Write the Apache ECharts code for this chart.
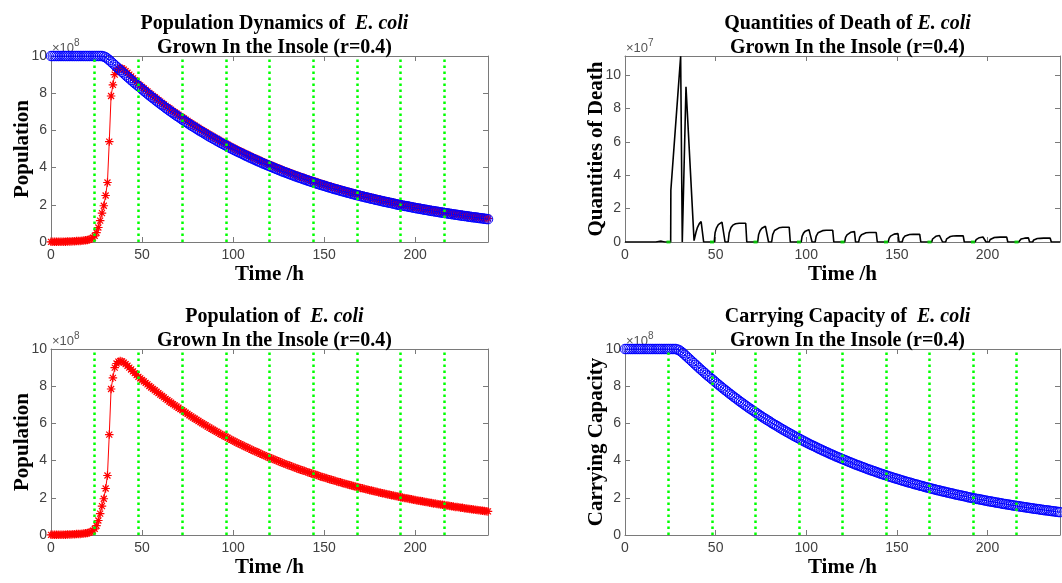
<!DOCTYPE html>
<html>
<head>
<meta charset="utf-8">
<script src="https://cdn.jsdelivr.net/npm/echarts@6/dist/echarts.min.js"></script>
<style>
html, body { margin: 0; padding: 0; background: #fff; }
#chart { width: 1062px; height: 583px; }
</style>
</head>
<body>
<div id="chart"></div>
<script>
// Hourly simulation output, t = 0 .. 240 h (values in units of 1e8 cells)
const START_H = 0;
const STEP_H = 1;

const population = [
  0.01, 0.01, 0.01, 0.01, 0.01, 0.02, 0.02, 0.02, 0.02, 0.03, 0.03, 0.03, 0.04, 0.04, 0.05, 0.05, 0.06, 0.07, 0.08,
  0.09, 0.11, 0.13, 0.17, 0.23, 0.33, 0.50, 0.78, 1.15, 1.55, 1.95, 2.50, 3.20, 5.40, 7.85, 8.45, 9.00, 9.22, 9.32,
  9.35, 9.33, 9.27, 9.19, 9.10, 9.00, 8.90, 8.80, 8.70, 8.60,
  8.50, 8.42, 8.34, 8.26, 8.18, 8.10, 8.01, 7.93, 7.86, 7.78, 7.70, 7.63,
  7.55, 7.48, 7.40, 7.32, 7.25, 7.18, 7.11, 7.04, 6.97, 6.90, 6.84, 6.77,
  6.71, 6.64, 6.57, 6.51, 6.44, 6.38, 6.31, 6.25, 6.19, 6.13, 6.07, 6.01,
  5.95, 5.89, 5.83, 5.77, 5.72, 5.66, 5.60, 5.55, 5.49, 5.44, 5.38, 5.33,
  5.28, 5.23, 5.17, 5.12, 5.07, 5.02, 4.97, 4.92, 4.88, 4.83, 4.78, 4.73,
  4.69, 4.64, 4.59, 4.55, 4.50, 4.46, 4.42, 4.37, 4.33, 4.29, 4.24, 4.20,
  4.16, 4.12, 4.08, 4.04, 4.00, 3.96, 3.92, 3.88, 3.84, 3.80, 3.77, 3.73,
  3.69, 3.66, 3.62, 3.58, 3.55, 3.51, 3.48, 3.45, 3.41, 3.38, 3.35, 3.31,
  3.28, 3.25, 3.22, 3.18, 3.15, 3.12, 3.09, 3.06, 3.03, 3.00, 2.97, 2.94,
  2.91, 2.88, 2.85, 2.83, 2.80, 2.77, 2.74, 2.72, 2.69, 2.66, 2.64, 2.61,
  2.58, 2.56, 2.53, 2.51, 2.48, 2.46, 2.43, 2.41, 2.39, 2.36, 2.34, 2.32,
  2.29, 2.27, 2.25, 2.23, 2.21, 2.18, 2.16, 2.14, 2.12, 2.10, 2.08, 2.06,
  2.03, 2.01, 1.99, 1.98, 1.96, 1.94, 1.92, 1.90, 1.88, 1.86, 1.84, 1.83,
  1.81, 1.79, 1.77, 1.76, 1.74, 1.72, 1.70, 1.69, 1.67, 1.65, 1.64, 1.62,
  1.61, 1.59, 1.58, 1.56, 1.54, 1.53, 1.51, 1.50, 1.49, 1.47, 1.46, 1.44,
  1.43, 1.41, 1.40, 1.38, 1.37, 1.36, 1.35, 1.33, 1.32, 1.31, 1.29, 1.28,
  1.27
];

const carryingCapacity = [
  10, 10, 10, 10, 10, 10, 10, 10, 10, 10, 10, 10, 10, 10, 10, 10, 10, 10, 10, 10,
  10, 10, 10, 10, 10, 10, 10, 10, 10,
  9.97, 9.93, 9.86, 9.78, 9.69, 9.60, 9.51, 9.42, 9.33, 9.24, 9.15, 9.06, 8.97, 8.88, 8.80, 8.71, 8.62, 8.54, 8.46,
  8.38, 8.30, 8.21, 8.13, 8.05, 7.97, 7.89, 7.81, 7.74, 7.66, 7.58, 7.51,
  7.43, 7.36, 7.29, 7.21, 7.14, 7.07, 7.00, 6.93, 6.86, 6.79, 6.73, 6.66,
  6.59, 6.53, 6.46, 6.40, 6.33, 6.27, 6.21, 6.15, 6.09, 6.02, 5.96, 5.91,
  5.85, 5.79, 5.73, 5.67, 5.62, 5.56, 5.51, 5.45, 5.40, 5.34, 5.29, 5.24,
  5.19, 5.13, 5.08, 5.03, 4.98, 4.93, 4.88, 4.83, 4.79, 4.74, 4.69, 4.64,
  4.60, 4.55, 4.51, 4.46, 4.42, 4.37, 4.33, 4.29, 4.24, 4.20, 4.16, 4.12,
  4.08, 4.04, 4.00, 3.96, 3.92, 3.88, 3.84, 3.80, 3.76, 3.73, 3.69, 3.65,
  3.62, 3.58, 3.54, 3.51, 3.47, 3.44, 3.41, 3.37, 3.34, 3.30, 3.27, 3.24,
  3.21, 3.17, 3.14, 3.11, 3.08, 3.05, 3.02, 2.99, 2.96, 2.93, 2.90, 2.87,
  2.84, 2.82, 2.79, 2.76, 2.73, 2.71, 2.68, 2.65, 2.63, 2.60, 2.57, 2.55,
  2.52, 2.50, 2.47, 2.45, 2.42, 2.40, 2.38, 2.35, 2.33, 2.31, 2.28, 2.26,
  2.24, 2.22, 2.19, 2.17, 2.15, 2.13, 2.11, 2.09, 2.07, 2.04, 2.02, 2.00,
  1.98, 1.96, 1.94, 1.93, 1.91, 1.89, 1.87, 1.85, 1.83, 1.81, 1.80, 1.78,
  1.76, 1.74, 1.73, 1.71, 1.69, 1.67, 1.66, 1.64, 1.63, 1.61, 1.59, 1.58,
  1.56, 1.55, 1.53, 1.52, 1.50, 1.49, 1.47, 1.46, 1.44, 1.43, 1.41, 1.40,
  1.39, 1.37, 1.36, 1.34, 1.33, 1.32, 1.31, 1.29, 1.28, 1.27, 1.25, 1.24,
  1.23
];

// Deaths per step as [hour, value] pairs (values in units of 1e7 cells)
const deaths = [
  [0, 0], [17, 0], [18.5, 0.03], [20, 0.05], [21, 0.03], [22, 0], [25.2, 0],
  [25.3, 3.1], [30.7, 11.13], [31.6, 0], [32.3, 0], [33.65, 9.3], [38.1, 0.08], [38.6, 0],
  [39.2, 0.6], [40, 0.88], [41, 1.1], [42, 1.22], [42.8, 1.28], [43.4, 0],
  [49.2, 0], [49.7, 0.55], [50.5, 0.85], [51.5, 1.04], [52.5, 1.13], [53.5, 1.19], [54.6, 1.22], [55.2, 0],
  [56.9, 0], [57.5, 0.56], [58.5, 0.87], [59.5, 1.01], [61, 1.09], [63, 1.12], [66.6, 1.12], [67.2, 0],
  [73.2, 0], [73.7, 0.43], [74.5, 0.67], [75.5, 0.82], [76.5, 0.89], [77.5, 0.94], [78.6, 0.96], [79.2, 0],
  [80.9, 0], [81.5, 0.44], [82.5, 0.69], [83.5, 0.79], [85, 0.85], [87, 0.88], [90.6, 0.88], [91.2, 0],
  [97.2, 0], [97.7, 0.34], [98.5, 0.53], [99.5, 0.65], [100.5, 0.71], [101.5, 0.74], [102.6, 0.76], [103.2, 0],
  [104.9, 0], [105.5, 0.35], [106.5, 0.55], [107.5, 0.63], [109, 0.68], [111, 0.70], [114.6, 0.70], [115.2, 0],
  [121.2, 0], [121.7, 0.28], [122.5, 0.43], [123.5, 0.53], [124.5, 0.58], [125.5, 0.61], [126.6, 0.62], [127.2, 0],
  [128.9, 0], [129.5, 0.29], [130.5, 0.44], [131.5, 0.51], [133, 0.55], [135, 0.57], [138.6, 0.57], [139.2, 0],
  [145.2, 0], [145.7, 0.22], [146.5, 0.35], [147.5, 0.43], [148.5, 0.47], [149.5, 0.49], [150.6, 0.50], [151.2, 0],
  [152.9, 0], [153.5, 0.23], [154.5, 0.36], [155.5, 0.41], [157, 0.45], [159, 0.46], [162.6, 0.46], [163.2, 0],
  [169.2, 0], [169.7, 0.18], [170.5, 0.28], [171.5, 0.34], [172.5, 0.37], [173.5, 0.39], [174.6, 0.40], [175.2, 0],
  [176.9, 0], [177.5, 0.19], [178.5, 0.29], [179.5, 0.33], [181, 0.36], [183, 0.37], [186.6, 0.37], [187.2, 0],
  [193.2, 0], [193.7, 0.14], [194.5, 0.22], [195.5, 0.26], [196.5, 0.29], [197.5, 0.30], [198.6, 0.31], [199.2, 0],
  [200.9, 0], [201.5, 0.15], [202.5, 0.23], [203.5, 0.26], [205, 0.28], [207, 0.29], [210.6, 0.29], [211.2, 0],
  [217.2, 0], [217.7, 0.11], [218.5, 0.18], [219.5, 0.21], [220.5, 0.23], [221.5, 0.24], [222.6, 0.25], [223.2, 0],
  [224.9, 0], [225.5, 0.12], [226.5, 0.18], [227.5, 0.21], [229, 0.22], [231, 0.23], [234.6, 0.23], [235.2, 0],
  [240, 0]
];

// Day boundaries (every 24 h) drawn as dotted guides
const dayMarks = [24, 48, 72, 96, 120, 144, 168, 192, 216];

// Tick labels
const timeTicks = [0, 50, 100, 150, 200];
const countTicks = [0, 2, 4, 6, 8, 10];
const TIME_MAX = 240;
const POP_MAX = 10;
const DEATH_MAX = 11.15;

const timed = arr => arr.map((v, i) => [START_H + i * STEP_H, v]);

// ---- styling ----
const SERIF = '"Liberation Serif", "Times New Roman", serif';
const SANS = '"Liberation Sans", Arial, Helvetica, sans-serif';
const BOX = '#7a7a7a';
const TICK_TXT = '#404040';

const grids = [
  { left: 51, top: 56, width: 437, height: 186 },
  { left: 625, top: 56, width: 435, height: 186 },
  { left: 51, top: 349, width: 437, height: 186 },
  { left: 625, top: 349, width: 435, height: 186 }
];

const titleRich = {
  n: { fontFamily: SERIF, fontWeight: 'bold', fontSize: 20, color: '#000', lineHeight: 24 },
  i: { fontFamily: SERIF, fontWeight: 'bold', fontStyle: 'italic', fontSize: 20, color: '#000', lineHeight: 24 }
};
const titleTexts = [
  '{n|Population Dynamics of  }{i|E. coli}\n{n|Grown In the Insole (r=0.4)}',
  '{n|Quantities of Death of }{i|E. coli}\n{n|Grown In the Insole (r=0.4)}',
  '{n|Population of  }{i|E. coli}\n{n|Grown In the Insole (r=0.4)}',
  '{n|Carrying Capacity of  }{i|E. coli}\n{n|Grown In the Insole (r=0.4)}'
];
const yNames = ['Population', 'Quantities of Death', 'Population', 'Carrying Capacity'];
const yMax = [POP_MAX, DEATH_MAX, POP_MAX, POP_MAX];
const exponents = ['8', '7', '8', '8'];

const nameStyle = { fontFamily: SERIF, fontWeight: 'bold', fontSize: 21, color: '#000' };

const xAxes = [];
const yAxes = [];
grids.forEach((g, gi) => {
  const common = {
    type: 'value', gridIndex: gi, min: 0, max: TIME_MAX, interval: 50,
    axisLine: { onZero: false, lineStyle: { color: BOX, width: 1 } },
    axisTick: { inside: true, length: 5, lineStyle: { color: BOX, width: 1 } },
    splitLine: { show: false }
  };
  xAxes.push(Object.assign({}, common, {
    position: 'bottom',
    name: 'Time /h', nameLocation: 'middle', nameGap: 22, nameTextStyle: nameStyle,
    nameMoveOverlap: false,
    axisLabel: {
      color: TICK_TXT, fontFamily: SANS, fontSize: 14, margin: 6, showMaxLabel: false,
      formatter: v => (timeTicks.includes(v) ? String(v) : '')
    }
  }));
  xAxes.push(Object.assign({}, common, { position: 'top', axisLabel: { show: false } }));

  const ycommon = {
    type: 'value', gridIndex: gi, min: 0, max: yMax[gi], interval: 2,
    axisLine: { onZero: false, lineStyle: { color: BOX, width: 1 } },
    axisTick: { inside: true, length: 5, lineStyle: { color: BOX, width: 1 } },
    splitLine: { show: false }
  };
  yAxes.push(Object.assign({}, ycommon, {
    position: 'left',
    name: yNames[gi], nameLocation: 'middle', nameGap: 18, nameTextStyle: nameStyle,
    nameMoveOverlap: false,
    axisLabel: {
      color: TICK_TXT, fontFamily: SANS, fontSize: 14, margin: 4, showMaxLabel: gi !== 1,
      formatter: v => (countTicks.includes(v) ? String(v) : '')
    }
  }));
  yAxes.push(Object.assign({}, ycommon, { position: 'right', axisLabel: { show: false } }));
});

// MATLAB-style asterisk marker
const ASTERISK = 'path://M-5,-0.7H5V0.7H-5Z M-0.7,-5H0.7V5H-0.7Z ' +
  'M-3.05,-4.03L4.03,3.05L3.05,4.03L-4.03,-3.05Z M-4.03,3.05L3.05,-4.03L4.03,-3.05L-3.05,4.03Z';

const RED = '#ff0000';
const BLUE = '#0000ff';
const GREEN = '#00ff00';

function dayGuides(gi) {
  return {
    type: 'line', xAxisIndex: gi * 2, yAxisIndex: gi * 2, data: [], z: 5, silent: true,
    markLine: {
      silent: true, symbol: ['none', 'none'], label: { show: false }, animation: false,
      lineStyle: { color: GREEN, width: 2.5, type: [2.5, 3.5], opacity: 1 },
      emphasis: { disabled: true },
      data: dayMarks.map(d => ({ xAxis: d }))
    }
  };
}

function popSeries(gi) {
  return {
    type: 'line', xAxisIndex: gi * 2, yAxisIndex: gi * 2, data: timed(population),
    symbol: ASTERISK, symbolSize: 8.5, showAllSymbol: true, z: 2,
    itemStyle: { color: RED },
    lineStyle: { color: RED, width: 1 },
    emphasis: { disabled: true }
  };
}
function capSeries(gi) {
  return {
    type: 'line', xAxisIndex: gi * 2, yAxisIndex: gi * 2, data: timed(carryingCapacity),
    symbol: 'circle', symbolSize: 9.5, showAllSymbol: true, z: 3,
    itemStyle: { color: 'rgba(0,0,0,0)', borderColor: BLUE, borderWidth: 1 },
    lineStyle: { color: BLUE, width: 1 },
    emphasis: { disabled: true }
  };
}

const series = [
  popSeries(0), capSeries(0), dayGuides(0),
  {
    type: 'line', xAxisIndex: 2, yAxisIndex: 2, data: deaths, showSymbol: false, z: 2,
    lineStyle: { color: '#000', width: 1.6 }, emphasis: { disabled: true }
  },
  {
    type: 'scatter', xAxisIndex: 2, yAxisIndex: 2, data: dayMarks.map(d => [d, 0]), z: 3,
    symbol: 'rect', symbolSize: [4, 3], itemStyle: { color: '#00dd00' }, silent: true
  },
  popSeries(2), dayGuides(2),
  capSeries(3), dayGuides(3)
];

const titles = grids.map((g, gi) => ({
  text: titleTexts[gi], left: g.left + g.width / 2, top: g.top - 49, textAlign: 'center',
  textStyle: { rich: titleRich, fontSize: 20, lineHeight: 24 }
}));

const graphics = grids.map((g, gi) => ({
  type: 'text', x: g.left + 1, y: g.top - 1, silent: true,
  style: {
    text: '{a|×10}{b|' + exponents[gi] + '}',
    textVerticalAlign: 'bottom',
    rich: {
      a: { fontFamily: SANS, fontSize: 13, fill: '#555', lineHeight: 17, verticalAlign: 'bottom' },
      b: { fontFamily: SANS, fontSize: 10, fill: '#555', lineHeight: 17, verticalAlign: 'top' }
    }
  }
}));

const chart = echarts.init(document.getElementById('chart'), null, { renderer: 'canvas' });
chart.setOption({
  animation: false,
  backgroundColor: '#ffffff',
  title: titles,
  grid: grids.map(g => Object.assign({ containLabel: false }, g)),
  xAxis: xAxes,
  yAxis: yAxes,
  series: series,
  graphic: graphics
});
</script>
</body>
</html>
